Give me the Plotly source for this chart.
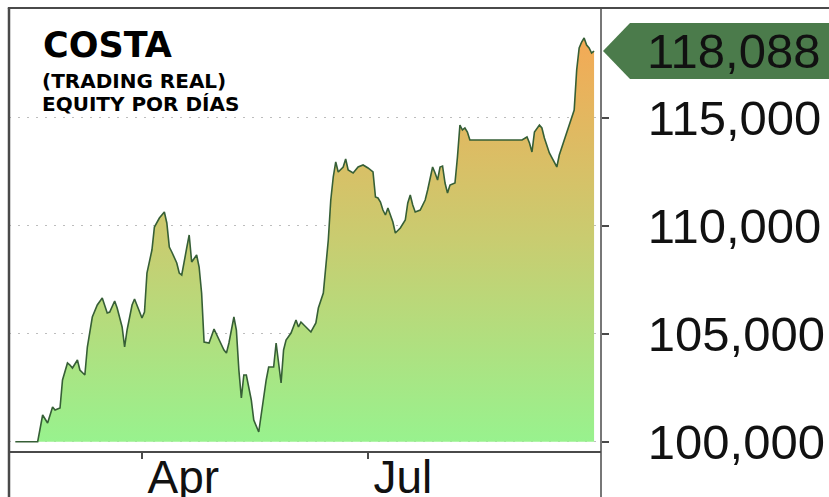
import plotly.graph_objects as go

# Daily account equity (real trading account)
dates = [
    "2025-02-09", "2025-02-18", "2025-02-20", "2025-02-22", "2025-02-24", "2025-02-25",
    "2025-02-27", "2025-02-28", "2025-03-02", "2025-03-03", "2025-03-04", "2025-03-06",
    "2025-03-07", "2025-03-09", "2025-03-10", "2025-03-12", "2025-03-14", "2025-03-16",
    "2025-03-18", "2025-03-19", "2025-03-21", "2025-03-22", "2025-03-24", "2025-03-25",
    "2025-03-26", "2025-03-28", "2025-03-29", "2025-03-30", "2025-04-01", "2025-04-02",
    "2025-04-03", "2025-04-05", "2025-04-06", "2025-04-08", "2025-04-10", "2025-04-11",
    "2025-04-12", "2025-04-13", "2025-04-15", "2025-04-16", "2025-04-17", "2025-04-19",
    "2025-04-20", "2025-04-21", "2025-04-23", "2025-04-24", "2025-04-25", "2025-04-26",
    "2025-04-28", "2025-04-30", "2025-05-02", "2025-05-04", "2025-05-05", "2025-05-06",
    "2025-05-08", "2025-05-09", "2025-05-10", "2025-05-11", "2025-05-12", "2025-05-13",
    "2025-05-15", "2025-05-16", "2025-05-18", "2025-05-19", "2025-05-21", "2025-05-22",
    "2025-05-24", "2025-05-25", "2025-05-27", "2025-05-28", "2025-05-29", "2025-05-31",
    "2025-06-02", "2025-06-03", "2025-06-04", "2025-06-06", "2025-06-08", "2025-06-10",
    "2025-06-11", "2025-06-13", "2025-06-14", "2025-06-15", "2025-06-16", "2025-06-17",
    "2025-06-18", "2025-06-19", "2025-06-21", "2025-06-22", "2025-06-23", "2025-06-25",
    "2025-06-27", "2025-06-29", "2025-07-01", "2025-07-03", "2025-07-04", "2025-07-05",
    "2025-07-06", "2025-07-07", "2025-07-08", "2025-07-09", "2025-07-11", "2025-07-12",
    "2025-07-14", "2025-07-16", "2025-07-17", "2025-07-18", "2025-07-19", "2025-07-20",
    "2025-07-22", "2025-07-24", "2025-07-25", "2025-07-27", "2025-07-28", "2025-07-29",
    "2025-07-30", "2025-07-31", "2025-08-01", "2025-08-02", "2025-08-03", "2025-08-05",
    "2025-08-06", "2025-08-07", "2025-08-08", "2025-08-09", "2025-08-10", "2025-08-11",
    "2025-09-01", "2025-09-03", "2025-09-04", "2025-09-05", "2025-09-06", "2025-09-08",
    "2025-09-09", "2025-09-10", "2025-09-12", "2025-09-13", "2025-09-15", "2025-09-16",
    "2025-09-18", "2025-09-20", "2025-09-22", "2025-09-23", "2025-09-24", "2025-09-25",
    "2025-09-26", "2025-09-27", "2025-09-28", "2025-09-29", "2025-09-30",
]

equity = [
    100000, 100000, 101236, 100866, 101607, 101468,
    101560, 102857, 103644, 103551, 103412, 103783,
    103320, 103088, 104385, 105774, 106329, 106653,
    105959, 106005, 106514, 106190, 105310, 104385,
    105172, 106329, 106607, 106329, 105727, 106005,
    107811, 108876, 109941, 110358, 110636, 110126,
    109015, 108784, 108274, 107811, 107718, 108968,
    109570, 108320, 108644, 108089, 106885, 104616,
    104570, 105218, 104709, 104246, 104107, 104570,
    105774, 105172, 103320, 102023, 103088, 103088,
    101931, 101005, 100449, 101329, 102857, 103459,
    103459, 104570, 102718, 104246, 104709, 105033,
    105635, 105311, 105542, 105311, 105079, 105496,
    106190, 106885, 107950, 109339, 111191, 112256,
    112951, 112488, 112719, 113089, 112580, 112441,
    112719, 112812, 112673, 112488, 111330, 111284,
    111098, 110728, 110497, 110821, 110173, 109663,
    109895, 110265, 111052, 111422, 110959, 110635,
    110728, 111191, 111654, 112719, 112441, 112117,
    112719, 112765, 111978, 111515, 111885, 111978,
    113182, 114663, 114432, 114525, 114339, 113969,
    113969, 114108, 113830, 113413, 114339, 114663,
    114525, 114062, 113367, 113136, 112719, 113274,
    113969, 114571, 115358, 117210, 118228, 118506,
    118691, 118367, 118228, 117997, 118088,
]

start_capital = 100000

y_ticks = [100000, 105000, 110000, 115000]
y_tick_labels = ["100,000", "105,000", "110,000", "115,000"]
x_ticks = ["2025-04-01", "2025-07-01"]
x_tick_labels = ["Apr", "Jul"]

title_text = "COSTA"
subtitle_lines = ["(TRADING REAL)", "EQUITY POR DÍAS"]

LINE_COLOR = "#365f36"
TAG_COLOR = "#4b7b4b"
FRAME_COLOR = "#4a4a4a"
AXIS_FONT = "Liberation Sans, Arial, sans-serif"
TITLE_FONT = "DejaVu Sans, Verdana, sans-serif"

last_value = equity[-1]

fig = go.Figure()

# floor of the filled area at the starting capital
fig.add_trace(go.Scatter(
    x=[dates[0], dates[-1]], y=[start_capital, start_capital],
    mode="lines", line=dict(width=0, color="rgba(0,0,0,0)"),
    hoverinfo="skip", showlegend=False,
))

# equity curve with vertical green-to-orange gradient fill
fig.add_trace(go.Scatter(
    x=dates, y=equity, mode="lines",
    line=dict(color=LINE_COLOR, width=1.6),
    fill="tonexty",
    fillgradient=dict(
        type="vertical",
        colorscale=[[0.0, "#98f28e"], [0.5, "#c9cc70"], [1.0, "#f4a955"]],
        start=start_capital, stop=118800,
    ),
    showlegend=False,
))

fig.update_layout(
    width=829, height=497,
    margin=dict(l=9, r=228, t=8, b=46, pad=0),
    paper_bgcolor="white", plot_bgcolor="white",
    showlegend=False,
    xaxis=dict(
        type="date",
        range=["2025-02-06 11:00", "2025-10-02 19:00"],
        tickvals=x_ticks, ticktext=x_tick_labels,
        ticks="outside", ticklen=6, tickwidth=1.5, tickcolor=FRAME_COLOR,
        ticklabelposition="outside right",
        ticklabelstandoff=-15, ticklabelshift=4,
        tickfont=dict(family=AXIS_FONT, size=46, color="#111111"),
        showgrid=False, zeroline=False,
        showline=True, linecolor=FRAME_COLOR, linewidth=1.5,
        automargin=False, fixedrange=True,
    ),
    yaxis=dict(
        side="right",
        range=[99570, 120080],
        tickvals=y_ticks, ticktext=y_tick_labels,
        ticks="outside", ticklen=7, tickwidth=1.5, tickcolor=FRAME_COLOR,
        ticklabelstandoff=29,
        tickfont=dict(family=AXIS_FONT, size=49, color="#111111"),
        showgrid=True, gridcolor="#bdbdbd", gridwidth=1, griddash="2px,7px",
        zeroline=False,
        showline=False,
        automargin=False, fixedrange=True,
    ),
)

# outer frame: top edge across the whole width, left edge and right axis line
frame = [
    dict(x0=-0.002, x1=1.4, y0=1.0, y1=1.0, width=2),
    dict(x0=0.0, x1=0.0, y0=-0.12, y1=1.0, width=2.5),
    dict(x0=1.0, x1=1.0, y0=-0.12, y1=1.0, width=1.5),
]
for f in frame:
    fig.add_shape(type="line", xref="paper", yref="paper",
                  x0=f["x0"], x1=f["x1"], y0=f["y0"], y1=f["y1"],
                  line=dict(color=FRAME_COLOR, width=f["width"]))

# last-value tag pointing at the right axis
fig.add_shape(
    type="path", xref="paper", yref="y",
    xsizemode="pixel", ysizemode="pixel",
    xanchor=1, yanchor=last_value,
    path="M 2 0 L 29 -28 L 232 -28 L 232 28 L 29 28 Z",
    fillcolor=TAG_COLOR, line=dict(width=0),
)
fig.add_annotation(
    xref="paper", yref="y", x=1, y=last_value,
    xanchor="left", yanchor="middle", xshift=44,
    text=f"{last_value:,}", showarrow=False,
    font=dict(family=AXIS_FONT, size=49, color="#111111"),
)

# title block
fig.add_annotation(
    xref="paper", yref="paper", x=0.054, y=0.916,
    xanchor="left", yanchor="middle", showarrow=False,
    text=f"<b>{title_text}</b>",
    font=dict(family=TITLE_FONT, size=35, color="#000000"),
)
for line_text, ypos in zip(subtitle_lines, [0.835, 0.783]):
    fig.add_annotation(
        xref="paper", yref="paper", x=0.052, y=ypos,
        xanchor="left", yanchor="middle", showarrow=False,
        text=f"<b>{line_text}</b>",
        font=dict(family=TITLE_FONT, size=20, color="#000000"),
    )

fig.write_html("out.html")
